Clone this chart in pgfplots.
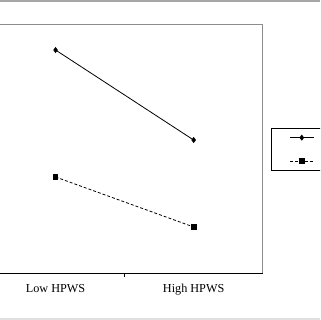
\documentclass[border=0pt]{standalone}
\usepackage{fontspec}
\setmainfont{Liberation Serif}
\usepackage{pgfplots}
\pgfplotsset{compat=1.18}
\begin{document}
\begin{tikzpicture}[x=1pt,y=1pt]
\useasboundingbox (0,0) rectangle (320,320);
\clip (0,0) rectangle (320,320);
\fill[white] (0,0) rectangle (320,320);
\fill[black!35] (0,318) rectangle (320,320);
\fill[black!12] (0,0) rectangle (320,1.8);
\begin{axis}[
  at={(-13.5pt,46.7pt)}, anchor=south west,
  width=276.2pt, height=249pt, scale only axis,
  xmin=0, xmax=2, ymin=1, ymax=5,
  axis line style={draw=none},
  ytick=\empty,
  xtick={0.5,1.5},
  xtick pos=bottom,
  xticklabels={Low HPWS, High HPWS},
  major tick length=0pt,
  xticklabel style={font=\fontsize{12.2}{14}\selectfont, anchor=base, yshift=-19.4pt},
  extra x ticks={1},
  extra x tick labels={},
  extra x tick style={xtick pos=bottom, major tick length=3.5pt, tick align=outside, tick style={black, line width=0.8pt}},
  clip=false,
  legend style={at={(1.030,0.5835)}, anchor=north west, draw=black, line width=0.8pt,
    inner xsep=18pt, inner ysep=1.5pt, row sep=8pt, fill=white},
  legend image code/.code={\draw[mark repeat=2,mark phase=2,#1] plot coordinates {(0pt,0pt) (12pt,0pt) (24pt,0pt)};},
]
\draw[black!45, line width=1pt] (rel axis cs:0,1) -- (rel axis cs:1,1) -- (rel axis cs:1,0);
\draw[black, line width=1.2pt] (rel axis cs:0,0) -- (rel axis cs:1,0);
\addplot[black, line width=0.8pt, mark=diamond*, mark size=2.4pt, mark options={solid}]
  coordinates {(0.5,4.587) (1.5,3.141)};
\addlegendentry{\rule[-11pt]{0pt}{21pt}\hspace{40pt}}
\addplot[black, line width=0.8pt, dash pattern=on 3pt off 2pt, mark=square*, mark size=2.3pt, mark options={solid}]
  coordinates {(0.5,2.547) (1.5,1.744)};
\addlegendentry{\rule[-11pt]{0pt}{21pt}\hspace{40pt}}
\end{axis}
\end{tikzpicture}
\end{document}
